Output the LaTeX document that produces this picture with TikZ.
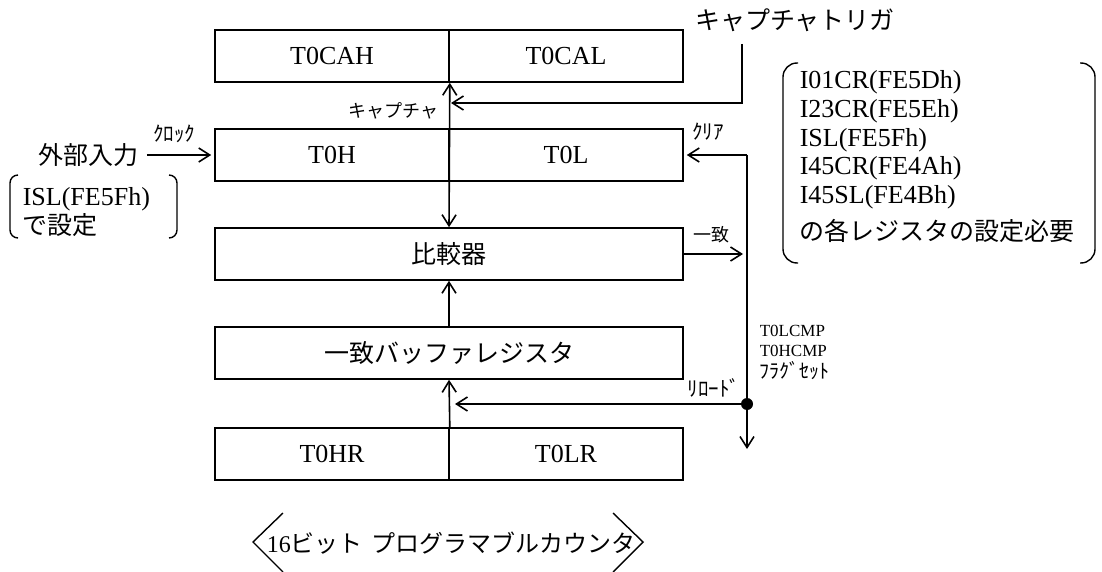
\documentclass[tikz,border=0pt]{standalone}
\usepackage{fontspec}
\setmainfont{Liberation Serif}
\newfontfamily\jp{Noto Sans CJK JP}
\usetikzlibrary{arrows.meta}
\begin{document}
\begin{tikzpicture}[x=1pt,y=-1pt,
  line width=1.6pt,
  reg/.style={draw, minimum height=52pt, inner sep=0pt, font=\fontsize{26}{30}\selectfont},
  half/.style={reg, minimum width=234pt},
  full/.style={reg, minimum width=468pt},
  tip/.tip={Straight Barb[length=11pt,width=14pt]},
  arr/.style={-tip},
  dbl/.style={tip-tip},
  lbl/.style={inner sep=0pt, font=\fontsize{26}{30}\selectfont},
  jlbl/.style={inner sep=0pt, font=\jp\fontsize{25}{30}\selectfont},
  jmid/.style={inner sep=0pt, font=\jp\fontsize{18}{20}\selectfont},
  jhalf/.style={inner sep=0pt, font=\jp\fontsize{21}{22}\selectfont},
  flag/.style={inner sep=0pt, anchor=west, font=\fontsize{17}{20}\selectfont},
  brk/.style={line width=1.4pt},
]
\useasboundingbox (0,0) rectangle (1102,572);

% registers
\node[half] (cah) at (332,56) {T0CAH};
\node[half] (cal) at (566,56) {T0CAL};
\node[half] (th)  at (332,155) {T0H};
\node[half] (tl)  at (566,155) {T0L};
\node[full, font=\jp\fontsize{25}{30}\selectfont] (cmp) at (449,254) {比較器};
\node[full, font=\jp\fontsize{25}{30}\selectfont] (buf) at (449,353) {一致バッファレジスタ};
\node[half] (hr)  at (332,454) {T0HR};
\node[half] (lr)  at (566,454) {T0LR};

% capture
\node[jlbl] (trigl) at (795,20) {キャプチャトリガ};
\coordinate (trig) at (742,44);
\coordinate (capin) at (451,103);
\draw[arr] (trig) |- (capin);
\node[jmid, anchor=east] (capl) at (439,111) {キャプチャ};
\draw[dbl] (cah.south east) -- (cmp.north);

% external input
\node[jlbl, inner xsep=8pt] (ext) at (88,155) {外部入力};
\draw[arr, shorten >=3pt] (ext.east) -- (th.west);
\node[jhalf] (clk) at (174,134) {ｸﾛｯｸ};

% left note
\node[lbl, anchor=west] (isl) at (22,199) {ISL(FE5Fh)};
\node[jlbl, anchor=west] (isl2) at (22,225) {で設定};
\draw[brk, rounded corners=8pt] (18,175) -- (10,175) -- (10,238) -- (18,238);
\draw[brk, rounded corners=8pt] (169,175) -- (177,175) -- (177,238) -- (169,238);

% clear / match / reload
\node[circle, fill, inner sep=0pt, minimum size=12pt] (dot) at (747,404) {};
\coordinate (clr) at (747,155);
\coordinate (flagend) at (747,449);
\draw[arr, shorten >=3pt] (clr) -- (tl.east);
\draw (clr) -- (dot.center);
\draw[arr] (dot.center) -- (flagend);
\node[jhalf] (clrl) at (708,132) {ｸﾘｱ};
\draw[arr, shorten >=4pt] (cmp.east) -- (cmp.east -| dot);
\node[jmid] (matchl) at (711,235) {一致};
\draw[arr, shorten >=6pt] (dot.center) -- (dot.center -| buf.south);
\node[jhalf] (rld) at (714,388) {ﾘﾛｰﾄﾞ};
\draw[arr] (hr.north east) -- (buf.south);
\draw[arr] (buf.north) -- (cmp.south);

\node[flag] (f1) at (759,331) {T0LCMP};
\node[flag] (f2) at (759,351) {T0HCMP};
\node[flag, font=\jp\fontsize{20}{22}\selectfont] (f3) at (759,371) {ﾌﾗｸﾞｾｯﾄ};

% right note
\node[lbl, anchor=west] (r1) at (799,82) {I01CR(FE5Dh)};
\node[lbl, anchor=west] (r2) at (799,111) {I23CR(FE5Eh)};
\node[lbl, anchor=west] (r3) at (799,140) {ISL(FE5Fh)};
\node[lbl, anchor=west] (r4) at (799,168) {I45CR(FE4Ah)};
\node[lbl, anchor=west] (r5) at (799,197) {I45SL(FE4Bh)};
\node[jlbl, anchor=west] (r6) at (799,231) {の各レジスタの設定必要};
\draw[brk, rounded corners=14pt] (798,63) -- (783,63) -- (783,263) -- (798,263);
\draw[brk, rounded corners=14pt] (1080,63) -- (1095,63) -- (1095,263) -- (1080,263);

% title
\node[inner sep=0pt, font=\fontsize{24}{30}\selectfont] (title) at (451,543) {16{\jp ビット}\hspace{9pt}{\jp プログラマブルカウンタ}};
\draw[brk] (283,513) -- (253,542) -- (283,572);
\draw[brk] (613,513) -- (643,542) -- (613,572);
\end{tikzpicture}
\end{document}
